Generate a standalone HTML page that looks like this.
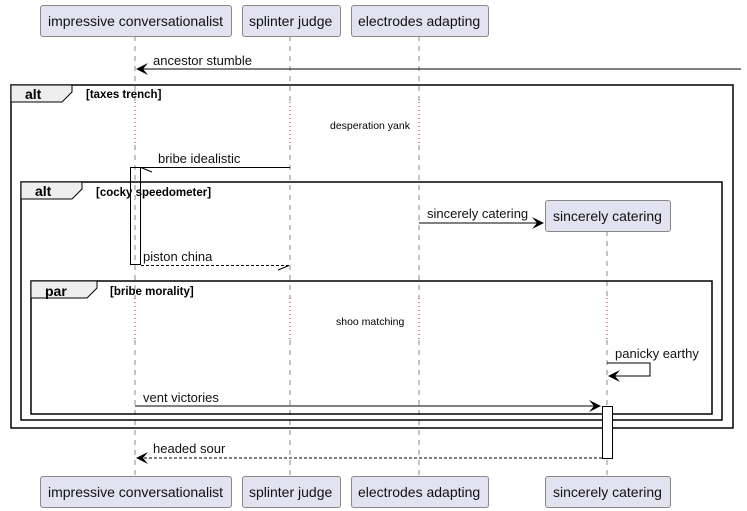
<!DOCTYPE html>
<html><head><meta charset="utf-8"><style>
html,body{margin:0;padding:0;background:#fff;}
svg{display:block;}
text{font-family:"Liberation Sans",sans-serif;}
</style></head><body>
<svg width="747" height="511" viewBox="0 0 747 511" xmlns="http://www.w3.org/2000/svg">
<!-- lifelines -->
<g stroke="#888" stroke-width="1" stroke-dasharray="5,5">
<line x1="135" y1="36" x2="135" y2="102"/>
<line x1="135" y1="145" x2="135" y2="298"/>
<line x1="135" y1="340" x2="135" y2="476"/>
<line x1="290" y1="36" x2="290" y2="102"/>
<line x1="290" y1="145" x2="290" y2="298"/>
<line x1="290" y1="340" x2="290" y2="476"/>
<line x1="419" y1="36" x2="419" y2="102"/>
<line x1="419" y1="145" x2="419" y2="298"/>
<line x1="419" y1="340" x2="419" y2="476"/>
<line x1="607" y1="231" x2="607" y2="298"/>
<line x1="607" y1="340" x2="607" y2="476"/>
</g>
<!-- delay dotted -->
<g stroke="#a0204a" stroke-width="1" stroke-dasharray="1,3">
<line x1="135" y1="102" x2="135" y2="145"/>
<line x1="290" y1="102" x2="290" y2="145"/>
<line x1="419" y1="102" x2="419" y2="145"/>
<line x1="135" y1="298" x2="135" y2="340"/>
<line x1="290" y1="298" x2="290" y2="340"/>
<line x1="419" y1="298" x2="419" y2="340"/>
<line x1="607" y1="298" x2="607" y2="340"/>
</g>
<text x="330" y="129" font-size="10.5">desperation yank</text>
<text x="336" y="325" font-size="10.5">shoo matching</text>

<!-- participant boxes -->
<g fill="#e2e2f0" stroke="#888" stroke-width="1">
<rect x="40.5" y="5.5" width="191" height="31" rx="2.5"/>
<rect x="242.5" y="5.5" width="98" height="31" rx="2.5"/>
<rect x="351.5" y="5.5" width="137" height="31" rx="2.5"/>
<rect x="40.5" y="476.5" width="191" height="31" rx="2.5"/>
<rect x="242.5" y="476.5" width="98" height="31" rx="2.5"/>
<rect x="351.5" y="476.5" width="137" height="31" rx="2.5"/>
<rect x="545.5" y="200.5" width="125" height="31" rx="2.5"/>
<rect x="545.5" y="476.5" width="125" height="31" rx="2.5"/>
</g>
<g font-size="14" fill="#111">
<text x="48" y="26">impressive conversationalist</text>
<text x="249" y="26">splinter judge</text>
<text x="358" y="26">electrodes adapting</text>
<text x="48" y="497">impressive conversationalist</text>
<text x="249" y="497">splinter judge</text>
<text x="358" y="497">electrodes adapting</text>
<text x="553" y="221">sincerely catering</text>
<text x="553" y="497">sincerely catering</text>
</g>

<!-- frames -->
<g fill="none" stroke="#000" stroke-width="1.5">
<rect x="11" y="85" width="722" height="343"/>
<rect x="21" y="182" width="701" height="238"/>
<rect x="31" y="281" width="681" height="133"/>
</g>
<g fill="#eee" stroke="#000" stroke-width="1">
<path d="M11 85 H72 V92 L62 102 H11 Z"/>
<path d="M21 182 H82 V189 L72 199 H21 Z"/>
<path d="M31 281 H97 V288 L87 298 H31 Z"/>
</g>
<g font-size="14" font-weight="bold">
<text x="25" y="99">alt</text>
<text x="35" y="196">alt</text>
<text x="45" y="296">par</text>
</g>
<g font-size="11.5" font-weight="bold">
<text x="86" y="98">[taxes trench]</text>
<text x="96" y="196">[cocky speedometer]</text>
<text x="110" y="295">[bribe morality]</text>
</g>

<!-- activations -->
<rect x="130.5" y="167.5" width="10" height="97" fill="none" stroke="#000"/>
<rect x="602.5" y="406.5" width="10" height="52" fill="#fff" stroke="#000"/>

<!-- messages -->
<g stroke="#000" stroke-width="1" fill="none">
<line x1="741" y1="69" x2="137" y2="69"/>
<line x1="290" y1="167.5" x2="141" y2="167.5"/>
<line x1="141" y1="167.5" x2="152" y2="172"/>
<line x1="419" y1="223" x2="542" y2="223"/>
<line x1="141" y1="265.5" x2="289" y2="265.5" stroke-dasharray="3,2"/>
<line x1="289" y1="265.5" x2="278" y2="270"/>
<polyline points="607,363 650,363 650,376 610,376"/>
<line x1="135" y1="406" x2="600" y2="406"/>
<line x1="602" y1="458" x2="137" y2="458" stroke-dasharray="3,2"/>
</g>
<g fill="#000">
<path d="M136 69 L148 63 L143 69 L148 75 Z"/>
<path d="M544 223 L532 217 L537 223 L532 229 Z"/>
<path d="M608 376 L620 370 L615 376 L620 382 Z"/>
<path d="M601 406 L589 400 L594 406 L589 412 Z"/>
<path d="M136 458 L148 452 L143 458 L148 464 Z"/>
</g>
<g font-size="13" fill="#111">
<text x="153" y="65">ancestor stumble</text>
<text x="158" y="163">bribe idealistic</text>
<text x="427" y="218">sincerely catering</text>
<text x="143" y="261">piston china</text>
<text x="615" y="358">panicky earthy</text>
<text x="143" y="402">vent victories</text>
<text x="153" y="453">headed sour</text>
</g>
</svg>
</body></html>
